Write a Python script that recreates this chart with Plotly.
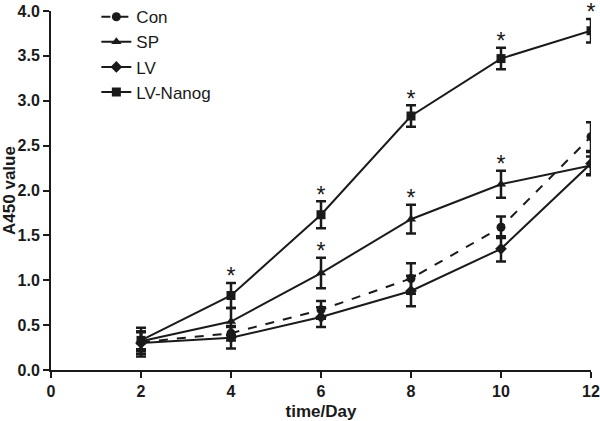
import plotly.graph_objects as go

days = [2, 4, 6, 8, 10, 12]
series_names = ["Con", "SP", "LV", "LV-Nanog"]
con = [0.31, 0.41, 0.67, 1.02, 1.59, 2.60]
con_err = [0.16, 0.08, 0.10, 0.17, 0.12, 0.16]
sp = [0.32, 0.54, 1.08, 1.68, 2.07, 2.28]
sp_err = [0.11, 0.15, 0.17, 0.16, 0.15, 0.10]
lv = [0.30, 0.36, 0.59, 0.88, 1.35, 2.30]
lv_err = [0.12, 0.12, 0.11, 0.17, 0.14, 0.13]
lvn = [0.33, 0.83, 1.73, 2.83, 3.47, 3.78]
lvn_err = [0.10, 0.14, 0.15, 0.12, 0.12, 0.13]
# significance marks (days)
sig_lvn_days = [4, 6, 8, 10, 12]
sig_sp_days = [6, 8, 10]

symbols = ["circle", "triangle-up", "diamond", "square"]
dashes = ["dash", "solid", "solid", "solid"]
vals = [con, sp, lv, lvn]
errs = [con_err, sp_err, lv_err, lvn_err]

FONT = "Liberation Sans, Arial"
INK = "#1a1a1a"

fig = go.Figure()
for name, v, e, sym, d in zip(series_names, vals, errs, symbols, dashes):
    fig.add_trace(go.Scatter(
        x=days, y=v, name=name, mode="lines+markers",
        line=dict(color=INK, width=2, dash=d),
        marker=dict(symbol=sym, size=9, color=INK),
        error_y=dict(type="data", array=e, color=INK, thickness=2.5, width=5),
        legendgroup=name,
    ))

def star_y(days_sel, v, e):
    return [v[days.index(dd)] + e[days.index(dd)] + 0.05 for dd in days_sel]

fig.add_trace(go.Scatter(
    x=sig_lvn_days + sig_sp_days,
    y=star_y(sig_lvn_days, lvn, lvn_err) + star_y(sig_sp_days, sp, sp_err),
    mode="text", text=["*"] * (len(sig_lvn_days) + len(sig_sp_days)),
    textposition="middle center",
    textfont=dict(size=23, color=INK, family=FONT),
    showlegend=False, hoverinfo="skip", cliponaxis=False,
))

fig.update_layout(
    width=600, height=421,
    margin=dict(l=51, r=9, t=11, b=51, autoexpand=False),
    paper_bgcolor="white", plot_bgcolor="white",
    font=dict(family=FONT, color=INK),
    showlegend=True,
    legend=dict(x=0.084, y=1.033, xanchor="left", yanchor="top",
                font=dict(size=17), bgcolor="rgba(0,0,0,0)",
                traceorder="grouped", tracegroupgap=0),
    xaxis=dict(range=[0, 12], tickvals=[0, 2, 4, 6, 8, 10, 12],
               showgrid=False, zeroline=False, showline=True, linewidth=2,
               linecolor=INK, ticks="outside", ticklen=6, tickwidth=2,
               tickcolor=INK, automargin=False,
               tickfont=dict(size=16, weight="bold"),
               title=dict(text="<b>time/Day</b>", font=dict(size=17), standoff=8)),
    yaxis=dict(range=[0, 4], tickvals=[0, 0.5, 1, 1.5, 2, 2.5, 3, 3.5, 4],
               ticktext=["0.0", "0.5", "1.0", "1.5", "2.0", "2.5", "3.0", "3.5", "4.0"],
               showgrid=False, zeroline=False, showline=True, linewidth=2,
               linecolor=INK, ticks="outside", ticklen=6, tickwidth=2,
               tickcolor=INK, automargin=False,
               tickfont=dict(size=16, weight="bold"),
               title=dict(text="<b>A450 value</b>", font=dict(size=17), standoff=6)),
)

fig.write_html("out.html", config={"displayModeBar": False},
               post_script="document.body.style.margin='0px';document.body.style.padding='0px';")
